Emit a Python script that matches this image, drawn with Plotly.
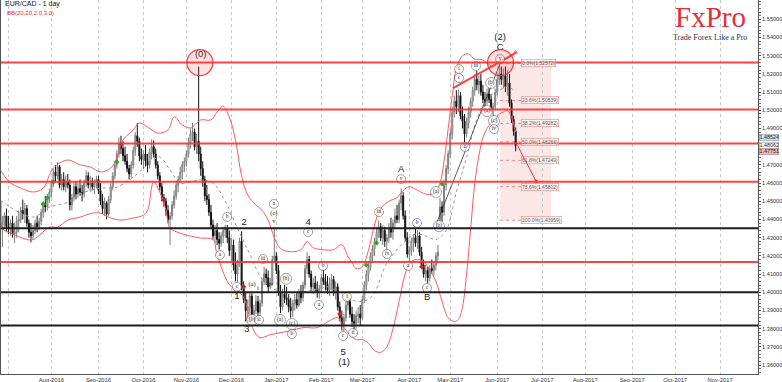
import pandas as pd
import plotly.graph_objects as go

START = "2016-06-27"

opens = [1.4500,1.4360,1.4380,1.4420,1.4360,1.4350,1.4380,1.4320,1.4330,1.4390,
1.4400,1.4450,1.4430,1.4460,1.4380,1.4330,1.4310,1.4340,1.4380,1.4360,
1.4390,1.4440,1.4480,1.4470,1.4520,1.4550,1.4600,1.4660,1.4640,1.4690,
1.4590,1.4620,1.4580,1.4610,1.4590,1.4480,1.4520,1.4580,1.4540,1.4570,
1.4550,1.4540,1.4600,1.4640,1.4590,1.4600,1.4580,1.4600,1.4620,1.4560,
1.4500,1.4460,1.4490,1.4430,1.4510,1.4580,1.4640,1.4700,1.4760,1.4820,
1.4790,1.4750,1.4720,1.4680,1.4650,1.4700,1.4780,1.4860,1.4830,1.4750,
1.4730,1.4760,1.4720,1.4700,1.4770,1.4800,1.4760,1.4700,1.4640,1.4580,
1.4520,1.4500,1.4450,1.4400,1.4420,1.4480,1.4530,1.4590,1.4620,1.4660,
1.4700,1.4720,1.4760,1.4820,1.4870,1.4880,1.4800,1.4830,1.4760,1.4680,
1.4620,1.4530,1.4510,1.4440,1.4370,1.4310,1.4340,1.4290,1.4270,1.4310,
1.4340,1.4350,1.4300,1.4230,1.4260,1.4150,1.4100,1.4160,1.4280,1.4030,
1.3960,1.3900,1.3920,1.3980,1.3880,1.3900,1.3950,1.3890,1.3940,1.4060,
1.4100,1.4080,1.4030,1.4050,1.4180,1.4200,1.4120,1.4000,1.3920,1.3990,
1.3970,1.3960,1.3920,1.3900,1.3940,1.3960,1.3930,1.4000,1.3970,1.4040,
1.4130,1.4180,1.4100,1.4030,1.4050,1.4020,1.4000,1.4020,1.4080,1.4060,
1.4040,1.4010,1.4050,1.4070,1.4000,1.4030,1.3920,1.3860,1.3820,1.3860,
1.3930,1.3950,1.3880,1.3840,1.3830,1.3870,1.3880,1.3860,1.3960,1.4040,
1.4100,1.4140,1.4200,1.4240,1.4280,1.4330,1.4360,1.4300,1.4340,1.4280,
1.4300,1.4350,1.4330,1.4380,1.4420,1.4400,1.4490,1.4530,1.4420,1.4300,
1.4210,1.4230,1.4280,1.4300,1.4270,1.4310,1.4220,1.4150,1.4100,1.4120,
1.4080,1.4130,1.4120,1.4150,1.4200,1.4400,1.4470,1.4440,1.4590,1.4680,
1.4760,1.4870,1.4990,1.5050,1.5020,1.5080,1.4970,1.4940,1.4870,1.4930,
1.4990,1.5050,1.5110,1.5170,1.5140,1.5160,1.5100,1.5060,1.5050,1.5090,
1.5060,1.5010,1.5020,1.5100,1.5170,1.5200,1.5170,1.5190,1.5130,1.5150,
1.5040,1.4950,1.4885]

highs = [1.4520,1.4420,1.4440,1.4460,1.4420,1.4400,1.4420,1.4380,1.4420,1.4450,
1.4470,1.4510,1.4490,1.4480,1.4400,1.4380,1.4370,1.4400,1.4420,1.4410,
1.4460,1.4500,1.4530,1.4540,1.4570,1.4620,1.4680,1.4700,1.4715,1.4700,
1.4650,1.4660,1.4640,1.4650,1.4620,1.4540,1.4600,1.4610,1.4600,1.4620,
1.4590,1.4620,1.4670,1.4660,1.4640,1.4630,1.4620,1.4640,1.4640,1.4600,
1.4540,1.4520,1.4500,1.4530,1.4600,1.4660,1.4720,1.4780,1.4850,1.4860,
1.4830,1.4800,1.4760,1.4700,1.4720,1.4800,1.4880,1.4930,1.4850,1.4790,
1.4780,1.4810,1.4760,1.4790,1.4840,1.4835,1.4790,1.4720,1.4660,1.4600,
1.4540,1.4520,1.4480,1.4440,1.4500,1.4560,1.4610,1.4640,1.4690,1.4720,
1.4740,1.4780,1.4850,1.4900,1.4930,1.4900,1.4870,1.5240,1.4800,1.4720,
1.4640,1.4590,1.4540,1.4480,1.4400,1.4370,1.4380,1.4330,1.4330,1.4360,
1.4370,1.4370,1.4340,1.4300,1.4290,1.4220,1.4180,1.4300,1.4335,1.4060,
1.4000,1.3960,1.4000,1.3995,1.3930,1.3985,1.3980,1.3960,1.4080,1.4140,
1.4130,1.4120,1.4080,1.4200,1.4360,1.4220,1.4150,1.4040,1.4020,1.4040,
1.4030,1.3990,1.3970,1.3960,1.3990,1.4000,1.4020,1.4040,1.4060,1.4150,
1.4220,1.4200,1.4120,1.4080,1.4090,1.4060,1.4040,1.4100,1.4125,1.4100,
1.4090,1.4080,1.4100,1.4090,1.4060,1.4050,1.3950,1.3900,1.3880,1.3960,
1.4000,1.3970,1.3920,1.3880,1.3900,1.3920,1.3930,1.3980,1.4060,1.4120,
1.4170,1.4220,1.4260,1.4300,1.4360,1.4395,1.4380,1.4370,1.4360,1.4320,
1.4380,1.4410,1.4400,1.4460,1.4480,1.4510,1.4570,1.4550,1.4450,1.4330,
1.4250,1.4300,1.4320,1.4355,1.4340,1.4330,1.4250,1.4180,1.4150,1.4140,
1.4150,1.4180,1.4170,1.4220,1.4260,1.4520,1.4500,1.4620,1.4700,1.4780,
1.4900,1.5020,1.5080,1.5110,1.5115,1.5100,1.5020,1.4980,1.4960,1.5020,
1.5070,1.5130,1.5200,1.5215,1.5190,1.5200,1.5140,1.5100,1.5120,1.5125,
1.5090,1.5040,1.5120,1.5200,1.5257,1.5240,1.5230,1.5240,1.5220,1.5200,
1.5060,1.4970,1.4905]

lows = [1.4330,1.4250,1.4350,1.4330,1.4320,1.4310,1.4300,1.4270,1.4300,1.4330,
1.4380,1.4400,1.4380,1.4360,1.4300,1.4275,1.4290,1.4320,1.4330,1.4340,
1.4370,1.4410,1.4440,1.4450,1.4490,1.4520,1.4580,1.4610,1.4620,1.4570,
1.4560,1.4560,1.4550,1.4570,1.4450,1.4450,1.4500,1.4510,1.4520,1.4530,
1.4500,1.4520,1.4580,1.4570,1.4550,1.4560,1.4540,1.4570,1.4540,1.4480,
1.4430,1.4420,1.4400,1.4420,1.4490,1.4560,1.4620,1.4680,1.4740,1.4760,
1.4720,1.4700,1.4660,1.4620,1.4630,1.4680,1.4750,1.4800,1.4720,1.4700,
1.4680,1.4690,1.4660,1.4680,1.4730,1.4740,1.4680,1.4620,1.4560,1.4500,
1.4470,1.4420,1.4380,1.4260,1.4400,1.4460,1.4510,1.4550,1.4600,1.4620,
1.4660,1.4690,1.4740,1.4790,1.4830,1.4780,1.4760,1.4720,1.4640,1.4580,
1.4500,1.4480,1.4420,1.4350,1.4290,1.4270,1.4260,1.4235,1.4250,1.4270,
1.4300,1.4270,1.4200,1.4170,1.4120,1.4060,1.4055,1.4140,1.4010,1.3940,
1.3840,1.3835,1.3880,1.3860,1.3850,1.3880,1.3870,1.3870,1.3920,1.4040,
1.4040,1.4000,1.4015,1.4040,1.4160,1.4100,1.3980,1.3885,1.3900,1.3940,
1.3930,1.3890,1.3860,1.3865,1.3900,1.3910,1.3920,1.3940,1.3950,1.4020,
1.4100,1.4080,1.4000,1.3990,1.4000,1.3970,1.3965,1.4000,1.4040,1.4010,
1.3990,1.3980,1.4010,1.3980,1.3960,1.3900,1.3840,1.3790,1.3785,1.3840,
1.3900,1.3860,1.3810,1.3790,1.3800,1.3830,1.3820,1.3850,1.3940,1.4010,
1.4060,1.4120,1.4170,1.4200,1.4260,1.4300,1.4280,1.4260,1.4250,1.4225,
1.4270,1.4300,1.4290,1.4350,1.4380,1.4380,1.4450,1.4400,1.4280,1.4190,
1.4165,1.4200,1.4220,1.4250,1.4240,1.4200,1.4130,1.4080,1.4060,1.4050,
1.4060,1.4100,1.4090,1.4120,1.4160,1.4380,1.4390,1.4420,1.4560,1.4650,
1.4740,1.4840,1.4960,1.4980,1.4990,1.4950,1.4900,1.4825,1.4850,1.4900,
1.4960,1.5020,1.5080,1.5110,1.5090,1.5080,1.5040,1.5020,1.5030,1.5040,
1.4990,1.4965,1.5000,1.5080,1.5140,1.5140,1.5120,1.5100,1.5080,1.5020,
1.4930,1.4860,1.4775]

closes = [1.4360,1.4380,1.4420,1.4360,1.4350,1.4380,1.4320,1.4330,1.4390,1.4400,
1.4450,1.4430,1.4460,1.4380,1.4330,1.4310,1.4340,1.4380,1.4360,1.4390,
1.4440,1.4480,1.4470,1.4520,1.4550,1.4600,1.4660,1.4640,1.4690,1.4590,
1.4620,1.4580,1.4610,1.4590,1.4480,1.4520,1.4580,1.4540,1.4570,1.4550,
1.4540,1.4600,1.4640,1.4590,1.4600,1.4580,1.4600,1.4620,1.4560,1.4500,
1.4460,1.4490,1.4430,1.4510,1.4580,1.4640,1.4700,1.4760,1.4820,1.4790,
1.4750,1.4720,1.4680,1.4650,1.4700,1.4780,1.4860,1.4830,1.4750,1.4730,
1.4760,1.4720,1.4700,1.4770,1.4800,1.4760,1.4700,1.4640,1.4580,1.4520,
1.4500,1.4450,1.4400,1.4420,1.4480,1.4530,1.4590,1.4620,1.4660,1.4700,
1.4720,1.4760,1.4820,1.4870,1.4880,1.4800,1.4830,1.4760,1.4680,1.4620,
1.4530,1.4510,1.4440,1.4370,1.4310,1.4340,1.4290,1.4270,1.4310,1.4340,
1.4350,1.4300,1.4230,1.4260,1.4150,1.4100,1.4160,1.4280,1.4030,1.3960,
1.3900,1.3920,1.3980,1.3880,1.3900,1.3950,1.3890,1.3940,1.4060,1.4100,
1.4080,1.4030,1.4050,1.4180,1.4200,1.4120,1.4000,1.3920,1.3990,1.3970,
1.3960,1.3920,1.3900,1.3940,1.3960,1.3930,1.4000,1.3970,1.4040,1.4130,
1.4180,1.4100,1.4030,1.4050,1.4020,1.4000,1.4020,1.4080,1.4060,1.4040,
1.4010,1.4050,1.4070,1.4000,1.4030,1.3920,1.3860,1.3820,1.3860,1.3930,
1.3950,1.3880,1.3840,1.3830,1.3870,1.3880,1.3860,1.3960,1.4040,1.4100,
1.4140,1.4200,1.4240,1.4280,1.4330,1.4360,1.4300,1.4340,1.4280,1.4300,
1.4350,1.4330,1.4380,1.4420,1.4400,1.4490,1.4530,1.4420,1.4300,1.4210,
1.4230,1.4280,1.4300,1.4270,1.4310,1.4220,1.4150,1.4100,1.4120,1.4080,
1.4130,1.4120,1.4150,1.4200,1.4220,1.4470,1.4440,1.4590,1.4680,1.4760,
1.4870,1.4990,1.5050,1.5020,1.5080,1.4970,1.4940,1.4870,1.4930,1.4990,
1.5050,1.5110,1.5170,1.5140,1.5160,1.5100,1.5060,1.5050,1.5090,1.5060,
1.5010,1.5020,1.5100,1.5170,1.5200,1.5170,1.5190,1.5130,1.5150,1.5040,
1.4950,1.4885,1.4806]

# Bollinger bands (bar index, value)
bb_up_idx = [0,5,10,16,21,26,33,39,44,49,54,57,60,65,68,72,77,82,85,89,93,98,103,106,109,112,115,
             118,121,125,128,131,134,137,142,147,150,153,158,163,167,170,172,174,177,180,183,186,
             190,194,197,200,204,208,212,215,217,219,221,223,226,229,232,235,238,241,244,247,250,252]
bb_up_val = [1.4672,1.4601,1.4573,1.4551,1.4573,1.4683,1.4727,1.4700,1.4689,1.4661,1.4683,1.4738,
             1.4837,1.4892,1.4930,1.4908,1.4875,1.4892,1.4964,1.4920,1.4903,1.4947,1.4947,1.4990,
             1.5023,1.4963,1.4837,1.4640,1.4535,1.4480,1.4450,1.4395,1.4300,1.4240,1.4223,1.4234,
             1.4278,1.4245,1.4234,1.4234,1.4262,1.4196,1.4163,1.4130,1.4140,1.4230,1.4370,1.4460,
             1.4500,1.4520,1.4560,1.4580,1.4560,1.4540,1.4540,1.4600,1.4720,1.4900,1.5080,1.5230,
             1.5300,1.5310,1.5280,1.5280,1.5260,1.5240,1.5270,1.5280,1.5300,1.5330]
bb_lo_idx = [0,5,15,18,24,28,33,39,45,49,54,59,65,70,72,75,78,81,83,88,93,98,104,106,112,116,119,
             124,127,132,137,142,148,155,161,165,168,171,174,177,180,183,186,189,192,195,198,201,
             204,207,210,213,216,219,222,224,226,228,230,232,234,236,238,240,242,244,246,248,250,252]
bb_lo_val = [1.4353,1.4325,1.4287,1.4303,1.4358,1.4358,1.4397,1.4413,1.4435,1.4435,1.4408,1.4397,
             1.4408,1.4424,1.4450,1.4606,1.4551,1.4452,1.4353,1.4325,1.4309,1.4298,1.4290,1.4207,
             1.4042,1.4009,1.3971,1.3789,1.3751,1.3767,1.3778,1.3789,1.3806,1.3806,1.3844,1.3860,
             1.3806,1.3767,1.3740,1.3740,1.3720,1.3680,1.3670,1.3700,1.3800,1.3950,1.4100,1.4170,
             1.4180,1.4170,1.4120,1.4060,1.3950,1.3860,1.3840,1.3850,1.3920,1.4100,1.4350,1.4600,
             1.4750,1.4850,1.4900,1.4930,1.4950,1.4980,1.4990,1.5000,1.4960,1.4880]
bb_mid_idx = [0,16,24,33,40,49,57,65,73,78,83,88,93,98,104,110,116,122,127,132,138,146,156,161,166,
              171,177,182,189,197,203,208,213,218,223,228,233,238,243,248,252]
bb_mid_val = [1.4506,1.4413,1.4468,1.4495,1.4545,1.4572,1.4578,1.4633,1.4710,1.4743,1.4672,1.4600,
              1.4606,1.4617,1.4600,1.4500,1.4350,1.4210,1.4090,1.4030,1.4000,1.4000,1.4020,1.4030,
              1.3990,1.3960,1.3950,1.3980,1.4160,1.4270,1.4320,1.4310,1.4290,1.4340,1.4550,1.4740,
              1.4950,1.5060,1.5100,1.5130,1.5100]

red_levels = [1.5262, 1.5005, 1.4818, 1.4607, 1.4167]
black_levels = [1.4352, 1.4000, 1.3817]

fib_names = ["0.0%", "23.6%", "38.2%", "50.0%", "61.8%", "78.6%", "100.0%"]
fib_vals = [1.52572, 1.50539, 1.49282, 1.48266, 1.47249, 1.45802, 1.43959]
fib_x = [244.4, 254.6, 269.3]   # zone start, label start, zone end (bar index)

trend_idx = [221.4, 252.7]
trend_val = [1.5122, 1.5320]
wave_idx = [213.0, 244.4]
wave_val = [1.4370, 1.5257]
arrow_from = (252.5, 1.4815)
arrow_to = (262.0, 1.4610)

tag_vals = [1.48524, 1.48062, 1.47751]
tag_bg = ["#cfe0ef", "#ffffff", "#f3b5b5"]

y_ticks = [1.36, 1.37, 1.38, 1.39, 1.40, 1.41, 1.42, 1.43, 1.44, 1.45, 1.46, 1.47, 1.48,
           1.49, 1.50, 1.51, 1.52, 1.53, 1.54, 1.55]

big_txt = ["(0)", "2", "1", "3", "4", "5", "(1)", "A", "B", "C", "(2)"]
big_idx = [98.0, 119.2, 115.7, 120.6, 150.5, 167.6, 168.1, 196.0, 208.7, 244.4, 244.4]
big_val = [1.5304, 1.4381, 1.3975, 1.3793, 1.4381, 1.3667, 1.3613, 1.4672, 1.3969, 1.5342, 1.5397]

small_txt = ["(a)", "i", "iv", "v", "(c)"]
small_idx = [123.1, 126.0, 132.4, 133.8, 133.8]
small_val = [1.4045, 1.4024, 1.4045, 1.4387, 1.4436]

circ_txt = ["b","a","c","(b)","ii","iii","a","(b)","(a)","(c)","b","c","b","a","c","i","ii","iii",
            "iv","v","a","b","c","(a)","(b)","i","c","ii","iii","(b)","(a)","(c)","iv","v"]
circ_idx = [110.9,107.4,115.7,123.1,126.5,128.5,133.8,139.7,136.8,142.6,142.6,150.5,157.8,155.8,
            167.6,169.5,172.5,185.2,189.1,196.0,199.4,203.8,208.7,213.1,214.5,224.3,224.3,227.2,
            232.6,240.0,238.0,241.4,241.4,244.4]
circ_val = [1.4414,1.4205,1.4030,1.3848,1.3848,1.4183,1.4486,1.4074,1.3848,1.3826,1.3771,1.4331,
            1.4145,1.3931,1.3760,1.3975,1.3777,1.4441,1.4211,1.4622,1.4145,1.4381,1.4024,1.4551,
            1.4364,1.5227,1.5177,1.4799,1.5243,1.5150,1.4996,1.4941,1.4897,1.5282]

green_idx = [21, 23, 26, 57, 179, 184, 216]
green_val = [1.4485, 1.4518, 1.4606, 1.4716, 1.4150, 1.4271, 1.4595]
red_idx = [80, 119, 166, 206]
red_val = [1.4506, 1.4030, 1.3881, 1.4140]

ring_idx = [97.6, 244.6]
ring_val = [1.5262, 1.5262]

# ---------------------------------------------------------------
n = len(closes)
xs = list(range(n))
axis_dates = pd.bdate_range(START, "2017-12-29")
tickvals, ticktext = [], []
for k in range(1, len(axis_dates)):
    if axis_dates[k].month != axis_dates[k - 1].month:
        tickvals.append(k)
        ticktext.append(axis_dates[k].strftime("%b-%Y") if k > 10 else "")

# the 1.48 label sits under the price tags, as in the source
y_text = ["" if abs(t - 1.48) < 1e-9 else f"{t:.5f}" for t in y_ticks]

RED = "rgba(255,45,45,0.9)"
fig = go.Figure()

# fib zone
fig.add_shape(type="rect", x0=fib_x[0], x1=fib_x[2], y0=fib_vals[-1], y1=fib_vals[0],
              fillcolor="rgba(240,120,120,0.18)", line=dict(width=0), layer="below")
for nm, v in zip(fib_names, fib_vals):
    fig.add_shape(type="line", x0=fib_x[0], x1=fib_x[1], y0=v, y1=v,
                  line=dict(color="rgba(230,80,80,0.8)", width=0.8, dash="dot"), layer="below")
    fig.add_annotation(x=fib_x[1], y=v, text=f"{nm}({v:.5f})", showarrow=False, xanchor="left",
                       font=dict(size=5, color="#555", family="Liberation Sans"),
                       bgcolor="rgba(255,255,255,0.55)", bordercolor="rgba(230,100,100,0.8)",
                       borderwidth=0.6, borderpad=0.5)

fig.add_trace(go.Scatter(x=bb_mid_idx, y=bb_mid_val, mode="lines", line_shape="spline",
                         line=dict(color="#9a9a9a", width=1, dash="dot"), hoverinfo="skip", showlegend=False))
fig.add_trace(go.Scatter(x=bb_up_idx, y=bb_up_val, mode="lines", line_shape="spline",
                         line=dict(color="#ff5a5a", width=1), hoverinfo="skip", showlegend=False))
fig.add_trace(go.Scatter(x=bb_lo_idx, y=bb_lo_val, mode="lines", line_shape="spline",
                         line=dict(color="#ff5a5a", width=1), hoverinfo="skip", showlegend=False))

fig.add_trace(go.Candlestick(x=xs, open=opens, high=highs, low=lows, close=closes,
                             increasing=dict(line=dict(color="#7a7a7a", width=1), fillcolor="#ffffff"),
                             decreasing=dict(line=dict(color="#111111", width=1), fillcolor="#111111"),
                             whiskerwidth=0, hoverinfo="skip", showlegend=False))

fig.add_trace(go.Scatter(x=wave_idx, y=wave_val, mode="lines", line=dict(color="#333", width=0.8),
                         hoverinfo="skip", showlegend=False))

for v in red_levels:
    fig.add_shape(type="line", xref="paper", x0=0, x1=1, y0=v, y1=v, line=dict(color=RED, width=2))
for v in black_levels:
    fig.add_shape(type="line", xref="paper", x0=0, x1=1, y0=v, y1=v, line=dict(color="#1e1e1e", width=2))

fig.add_trace(go.Scatter(x=trend_idx, y=trend_val, mode="lines", line=dict(color=RED, width=2),
                         hoverinfo="skip", showlegend=False))

for xi, yv in zip(ring_idx, ring_val):
    fig.add_shape(type="circle", xsizemode="pixel", ysizemode="pixel", xanchor=xi, yanchor=yv,
                  x0=-13, x1=13, y0=-13, y1=13, fillcolor="rgba(255,60,60,0.16)",
                  line=dict(color="rgba(235,40,40,0.9)", width=1.2))

fig.add_trace(go.Scatter(x=green_idx, y=green_val, mode="markers",
                         marker=dict(symbol="diamond", size=4, color="#22aa22"), hoverinfo="skip", showlegend=False))
fig.add_trace(go.Scatter(x=red_idx, y=red_val, mode="markers",
                         marker=dict(symbol="diamond", size=4, color="#cc2222"), hoverinfo="skip", showlegend=False))

sizes = [11 if t.startswith("(") else 9 for t in circ_txt]
fig.add_trace(go.Scatter(x=circ_idx, y=circ_val, mode="markers+text", text=circ_txt,
                         textposition="middle center",
                         textfont=dict(size=5.5, color="#222", family="Liberation Serif"),
                         marker=dict(symbol="circle", size=sizes, color="white",
                                     line=dict(color="#444", width=0.7)),
                         hoverinfo="skip", showlegend=False))
fig.add_trace(go.Scatter(x=small_idx, y=small_val, mode="text", text=small_txt,
                         textfont=dict(size=6.5, color="#222", family="Liberation Serif"),
                         hoverinfo="skip", showlegend=False))
fig.add_trace(go.Scatter(x=big_idx, y=big_val, mode="text", text=big_txt,
                         textfont=dict(size=9.5, color="#222", family="Liberation Sans"),
                         hoverinfo="skip", showlegend=False))

fig.add_annotation(x=arrow_to[0], y=arrow_to[1], ax=arrow_from[0], ay=arrow_from[1],
                   xref="x", yref="y", axref="x", ayref="y", text="", showarrow=True,
                   arrowhead=7, arrowsize=0.7, arrowwidth=1, arrowcolor="#ff3030")

for v, bg in zip(tag_vals, tag_bg):
    fig.add_annotation(xref="paper", x=1.0, y=v, text=f"{v:.5f}", showarrow=False, xanchor="left",
                       xshift=1, font=dict(size=5.4, color="#222", family="Liberation Sans"),
                       bgcolor=bg, bordercolor="#777", borderwidth=0.4, borderpad=0)

fig.add_annotation(xref="paper", yref="paper", x=0.002, y=0.988, text="EUR/CAD - 1 day", showarrow=False,
                   xanchor="left", yanchor="middle", font=dict(size=7, color="#111", family="Liberation Sans"))
fig.add_annotation(xref="paper", yref="paper", x=0.005, y=0.965, text="BB(20,20,2.0,3.0)", showarrow=False,
                   xanchor="left", yanchor="middle", font=dict(size=6, color="#e23030", family="Liberation Sans"))
fig.add_annotation(xref="paper", yref="paper", x=0.937, y=0.9545, text="FxPro", showarrow=False,
                   xanchor="center", yanchor="middle", font=dict(size=29, color="#e4303a", family="Liberation Serif"))
fig.add_annotation(xref="paper", yref="paper", x=0.937, y=0.8997, text="Trade Forex Like a Pro", showarrow=False,
                   xanchor="center", yanchor="middle", font=dict(size=8, color="#333", family="Liberation Serif"))

fig.update_layout(
    width=782, height=382, margin=dict(l=1, r=24, t=0, b=8),
    paper_bgcolor="white", plot_bgcolor="white", showlegend=False,
    xaxis=dict(range=[0.342, 370.5], tickmode="array", tickvals=tickvals, ticktext=ticktext,
               showgrid=True, gridcolor="#c8c8c8", griddash="dot", gridwidth=1,
               showline=True, linecolor="#555", linewidth=1, ticks="", zeroline=False,
               tickfont=dict(size=5.8, color="#333", family="Liberation Sans"), ticklabelstandoff=0,
               rangeslider=dict(visible=False), fixedrange=True),
    yaxis=dict(range=[1.35511, 1.56060], side="right", tickmode="array", tickvals=y_ticks, ticktext=y_text,
               showgrid=False, zeroline=False, showline=True, mirror=True,
               linecolor="#555", linewidth=1, ticks="outside", ticklen=2, tickcolor="#555",
               minor=dict(ticks="outside", ticklen=1.5, dtick=0.002, tickcolor="#777"),
               tickfont=dict(size=5.6, color="#333", family="Liberation Sans"), fixedrange=True),
)

fig.write_html("out.html")
